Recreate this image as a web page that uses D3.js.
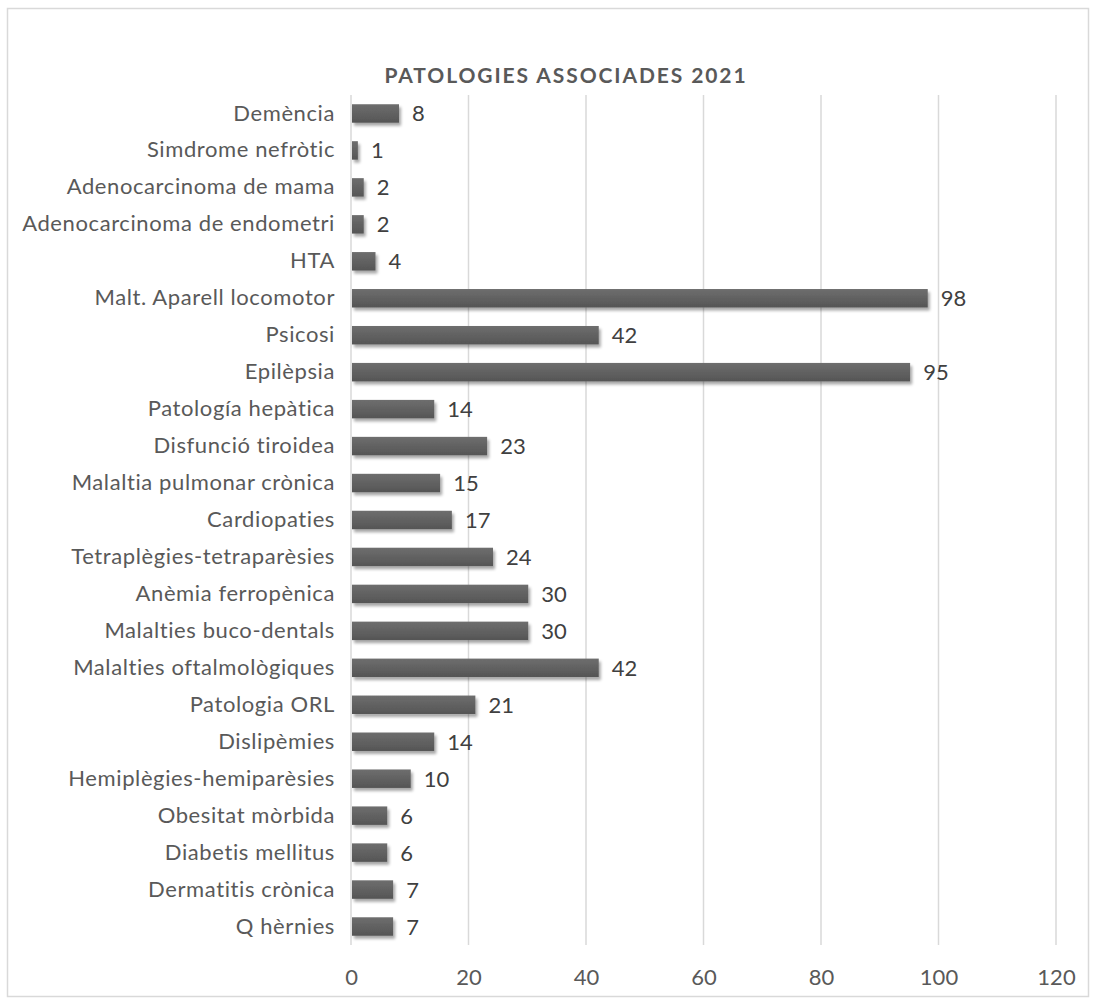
<!DOCTYPE html>
<html><head><meta charset="utf-8">
<script src="https://cdn.jsdelivr.net/npm/d3@7"></script>
<style>body{margin:0;background:#fff}</style>
</head><body>
<svg id="c" width="1095" height="1001"></svg>
<script>
const categories = ["Demència","Simdrome nefròtic","Adenocarcinoma de mama","Adenocarcinoma de endometri","HTA","Malt. Aparell locomotor","Psicosi","Epilèpsia","Patología hepàtica","Disfunció tiroidea","Malaltia pulmonar crònica","Cardiopaties","Tetraplègies-tetraparèsies","Anèmia ferropènica","Malalties buco-dentals","Malalties oftalmològiques","Patologia ORL","Dislipèmies","Hemiplègies-hemiparèsies","Obesitat mòrbida","Diabetis mellitus","Dermatitis crònica","Q hèrnies"];
const values = [8,1,2,2,4,98,42,95,14,23,15,17,24,30,30,42,21,14,10,6,6,7,7];
const xTicks = [0,20,40,60,80,100,120];
const title = "PATOLOGIES ASSOCIADES 2021";

const svg = d3.select("#c");
const font = "Lato, sans-serif";
const m = {left:351, right:1056, top:95, bottom:945};

svg.append("rect").attr("x",7.5).attr("y",8.5).attr("width",1081).attr("height",988)
  .attr("fill","#fff").attr("stroke","#d9d9d9").attr("stroke-width",1.5);

const defs = svg.append("defs");
const grad = defs.append("linearGradient").attr("id","g").attr("x1",0).attr("y1",0).attr("x2",0).attr("y2",1);
grad.append("stop").attr("offset","0%").attr("stop-color","#6e6e6e");
grad.append("stop").attr("offset","100%").attr("stop-color","#555555");
const f = defs.append("filter").attr("id","sh").attr("x","-20%").attr("y","-50%").attr("width","140%").attr("height","220%");
f.append("feOffset").attr("in","SourceAlpha").attr("dx",2).attr("dy",3).attr("result","o");
f.append("feGaussianBlur").attr("in","o").attr("stdDeviation",1.5).attr("result","b");
f.append("feComponentTransfer").attr("in","b").attr("result","t").append("feFuncA").attr("type","linear").attr("slope",0.35);
const mg = f.append("feMerge"); mg.append("feMergeNode").attr("in","t"); mg.append("feMergeNode").attr("in","SourceGraphic");

const x = d3.scaleLinear().domain([0,120]).range([m.left,m.right]);
const y = d3.scaleBand().domain(categories).range([m.top,m.bottom]).paddingInner(0.5).paddingOuter(0.25);

// grid
svg.append("g").selectAll("line").data(xTicks.slice(1)).join("line")
  .attr("x1",d=>x(d)).attr("x2",d=>x(d)).attr("y1",m.top).attr("y2",m.bottom)
  .attr("stroke","#d9d9d9").attr("stroke-width",1.5);
svg.append("line").attr("x1",m.left).attr("x2",m.left).attr("y1",m.top).attr("y2",m.bottom)
  .attr("stroke","#d9d9d9").attr("stroke-width",1.5);

// title
svg.append("text").attr("x",566).attr("y",83).attr("text-anchor","middle").attr("letter-spacing","1.9px")
  .attr("font-family",font).attr("font-size",21).attr("font-weight","bold").attr("fill","#595959").text(title);

// bars
const data = categories.map((c,i)=>({c,v:values[i]}));
svg.append("g").attr("filter","url(#sh)").selectAll("rect").data(data).join("rect")
  .attr("x",x(0)+1).attr("y",d=>y(d.c)).attr("width",d=>x(d.v)-x(0)).attr("height",y.bandwidth())
  .attr("fill","url(#g)");

// value labels
svg.append("g").selectAll("text").data(data).join("text")
  .attr("x",d=>x(d.v)+14).attr("y",d=>y(d.c)+y.bandwidth()/2+8)
  .attr("font-family",font).attr("font-size",22).attr("fill","#404040").text(d=>d.v);

// category axis
const ya = svg.append("g").attr("transform",`translate(${m.left},0)`).call(d3.axisLeft(y).tickSize(0).tickPadding(16));
ya.select(".domain").remove();
ya.selectAll("text").attr("font-family",font).attr("font-size",22).attr("letter-spacing","0.6px").attr("fill","#595959");

// x axis
const xa = svg.append("g").attr("transform",`translate(0,${m.bottom})`).call(d3.axisBottom(x).tickValues(xTicks).tickSize(0).tickPadding(24));
xa.select(".domain").remove();
xa.selectAll("text").attr("font-family",font).attr("font-size",22).attr("fill","#595959");
</script>
</body></html>
